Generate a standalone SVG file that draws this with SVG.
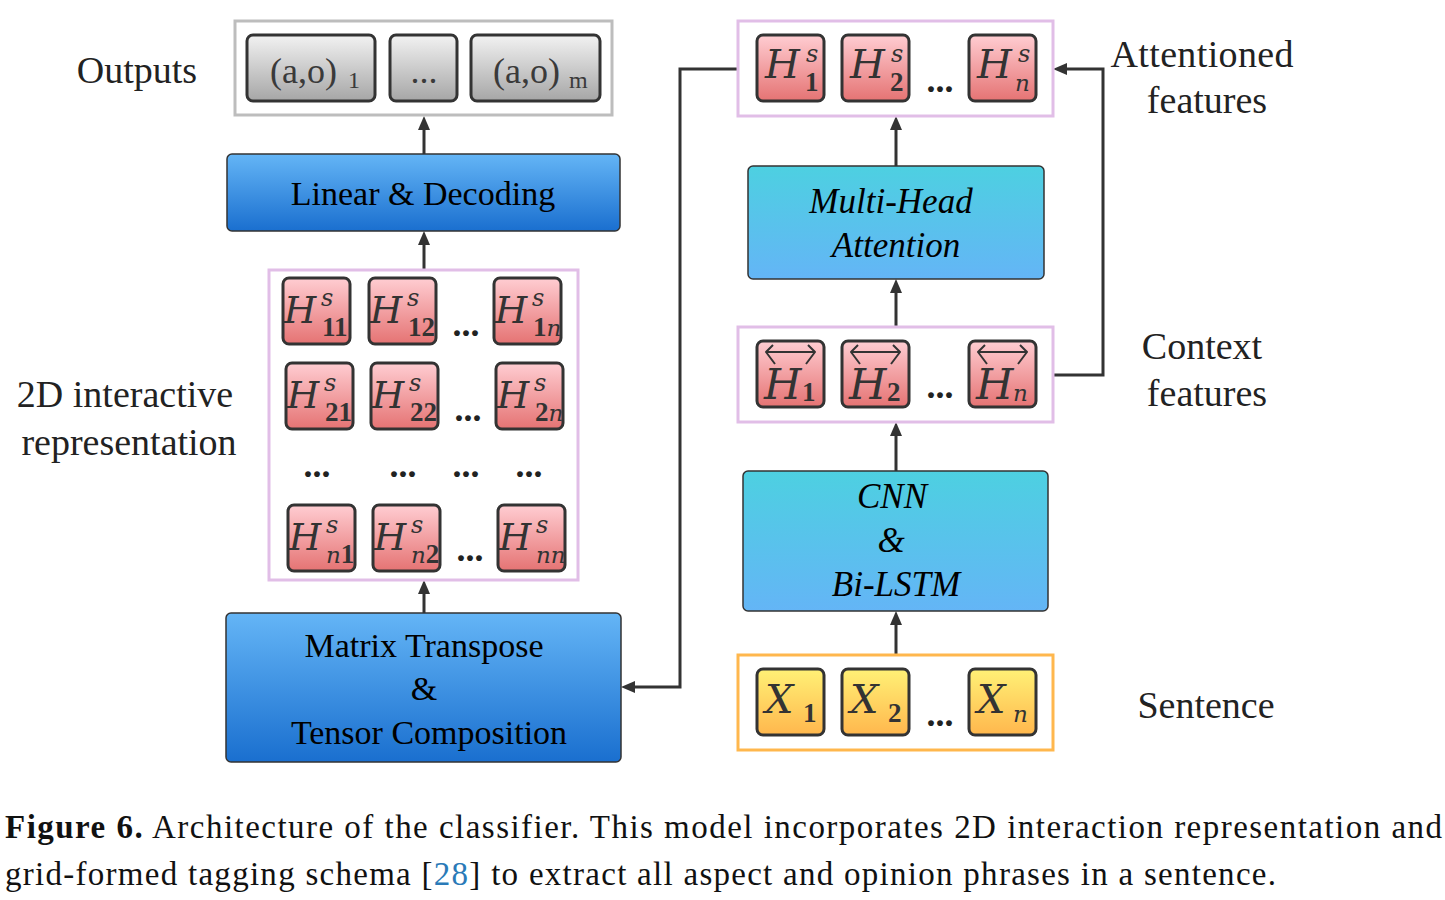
<svg xmlns="http://www.w3.org/2000/svg" width="1445" height="900" viewBox="0 0 1445 900">
<defs>
<linearGradient id="gBlue" x1="0" y1="0" x2="0" y2="1"><stop offset="0" stop-color="#64b5f6"/><stop offset="1" stop-color="#1a6fcf"/></linearGradient>
<linearGradient id="gCyan" x1="0" y1="0" x2="0" y2="1"><stop offset="0" stop-color="#4dd0e1"/><stop offset="1" stop-color="#64b5f6"/></linearGradient>
<linearGradient id="gRed" x1="0" y1="0" x2="0" y2="1"><stop offset="0" stop-color="#ffcdd2"/><stop offset="1" stop-color="#e57373"/></linearGradient>
<linearGradient id="gYel" x1="0" y1="0" x2="0" y2="1"><stop offset="0" stop-color="#fff176"/><stop offset="1" stop-color="#ffb74d"/></linearGradient>
<linearGradient id="gGray" x1="0" y1="0" x2="0" y2="1"><stop offset="0" stop-color="#f2f2f2"/><stop offset="1" stop-color="#a6a6a6"/></linearGradient>
<marker id="arr" viewBox="0 0 14 12" refX="4" refY="6" markerWidth="14" markerHeight="12" markerUnits="userSpaceOnUse" orient="auto"><path d="M0,0 L14,6 L0,12 z" fill="#333"/></marker>
</defs>
<style>
text{font-family:"Liberation Serif","Times New Roman",serif;}
.lbl{font-size:38px;fill:#222;text-anchor:middle;}
.bt{font-size:34px;fill:#000;text-anchor:middle;}
.it{font-size:35px;fill:#000;text-anchor:middle;font-style:italic;}
.big{fill:url(#gBlue);stroke:#333;stroke-width:1.5;}
.cy{fill:url(#gCyan);stroke:#333;stroke-width:1.5;}
.rc{fill:url(#gRed);stroke:#333;stroke-width:3;}
.yc{fill:url(#gYel);stroke:#333;stroke-width:3;}
.gc{fill:url(#gGray);stroke:#333;stroke-width:3;}
.lav{fill:#fff;stroke:#e1bee7;stroke-width:3;}
.org{fill:#fff;stroke:#ffb74d;stroke-width:3;}
.gry{fill:#fff;stroke:#bdbdbd;stroke-width:3;}
.mi{font-family:"DejaVu Serif",serif;font-size:40px;font-style:italic;fill:#333;}
.mig{font-family:"DejaVu Serif",serif;font-size:37px;font-style:italic;fill:#333;}
.mib{font-family:"DejaVu Serif",serif;font-size:43px;font-style:italic;fill:#333;}
.sup{font-family:"DejaVu Serif",serif;font-size:24px;font-style:italic;fill:#333;}
.sub{font-size:27px;font-weight:bold;fill:#333;}
.subi{font-family:"DejaVu Serif",serif;font-size:23px;font-weight:normal;font-style:italic;}
.dots{font-size:36px;font-weight:bold;fill:#222;text-anchor:middle;}
.ao{font-size:36px;fill:#3a3a3a;}
.aos{font-size:24px;fill:#3a3a3a;}
.conn{fill:none;stroke:#333;stroke-width:3;}
.acc{fill:none;stroke:#333;stroke-width:2;stroke-linejoin:round;}
.cap{font-size:33px;fill:#111;}
</style>

<!-- side labels -->
<text class="lbl" x="137" y="83">Outputs</text>
<text class="lbl" x="125" y="407">2D interactive</text>
<text class="lbl" x="129" y="455">representation</text>
<text class="lbl" x="1202" y="67" textLength="183">Attentioned</text>
<text class="lbl" x="1207" y="113">features</text>
<text class="lbl" x="1202" y="359">Context</text>
<text class="lbl" x="1207" y="406">features</text>
<text class="lbl" x="1206" y="718">Sentence</text>

<!-- connectors -->
<g id="connectors">
<path class="conn" marker-end="url(#arr)" d="M424,154 V126"/>
<path class="conn" marker-end="url(#arr)" d="M424,270 V241"/>
<path class="conn" marker-end="url(#arr)" d="M424,613 V590"/>
<path class="conn" marker-end="url(#arr)" d="M896,166 V126"/>
<path class="conn" marker-end="url(#arr)" d="M896,327 V289"/>
<path class="conn" marker-end="url(#arr)" d="M896,471 V432"/>
<path class="conn" marker-end="url(#arr)" d="M896,655 V621"/>
<path class="conn" marker-end="url(#arr)" d="M738,69 H680 V687 H631"/>
<path class="conn" marker-end="url(#arr)" d="M1053,375 H1103 V69 H1063"/>
</g>

<!-- Outputs -->
<g id="outputs">
<rect class="gry" x="235" y="21" width="377" height="94"/>
<rect class="gc" x="247" y="35" width="128" height="66" rx="6"/>
<text class="ao" x="270" y="83">(a,o)</text><text class="aos" x="348" y="88">1</text>
<rect class="gc" x="390" y="35" width="67" height="66" rx="6"/>
<text class="ao" x="424" y="83" text-anchor="middle">...</text>
<rect class="gc" x="471" y="35" width="129" height="66" rx="6"/>
<text class="ao" x="493" y="83">(a,o)</text><text class="aos" x="569" y="88">m</text>
</g>

<g id="linear">
<rect class="big" x="227" y="154" width="393" height="77" rx="5"/>
<text class="bt" x="423" y="205">Linear &amp; Decoding</text>
</g>

<!-- 2D grid -->
<g id="grid">
<rect class="lav" x="269" y="270" width="309" height="310"/>
<g id="h11"><rect class="rc" x="283" y="278" width="67" height="66" rx="6"/><text class="mig" x="284" y="323">H</text><text class="sup" x="321" y="306">s</text><text class="sub" x="322" y="336">11</text></g>
<g id="h12"><rect class="rc" x="369" y="278" width="67" height="66" rx="6"/><text class="mig" x="370" y="323">H</text><text class="sup" x="407" y="306">s</text><text class="sub" x="408" y="336">12</text></g>
<g id="h1n"><rect class="rc" x="494" y="278" width="67" height="66" rx="6"/><text class="mig" x="495" y="323">H</text><text class="sup" x="532" y="306">s</text><text class="sub" x="533" y="336">1<tspan class="subi">n</tspan></text></g>
<text class="dots" x="466" y="336">...</text>
<g id="h21"><rect class="rc" x="286" y="363" width="67" height="66" rx="6"/><text class="mig" x="287" y="408">H</text><text class="sup" x="324" y="391">s</text><text class="sub" x="325" y="421">21</text></g>
<g id="h22"><rect class="rc" x="371" y="363" width="67" height="66" rx="6"/><text class="mig" x="372" y="408">H</text><text class="sup" x="409" y="391">s</text><text class="sub" x="410" y="421">22</text></g>
<g id="h2n"><rect class="rc" x="496" y="363" width="67" height="66" rx="6"/><text class="mig" x="497" y="408">H</text><text class="sup" x="534" y="391">s</text><text class="sub" x="535" y="421">2<tspan class="subi">n</tspan></text></g>
<text class="dots" x="468" y="421">...</text>
<text class="dots" x="317" y="477">...</text>
<text class="dots" x="403" y="477">...</text>
<text class="dots" x="466" y="477">...</text>
<text class="dots" x="529" y="477">...</text>
<g id="hn1"><rect class="rc" x="288" y="505" width="67" height="66" rx="6"/><text class="mig" x="289" y="550">H</text><text class="sup" x="326" y="533">s</text><text class="sub" x="326" y="563"><tspan class="subi">n</tspan>1</text></g>
<g id="hn2"><rect class="rc" x="373" y="505" width="67" height="66" rx="6"/><text class="mig" x="374" y="550">H</text><text class="sup" x="411" y="533">s</text><text class="sub" x="411" y="563"><tspan class="subi">n</tspan>2</text></g>
<g id="hnn"><rect class="rc" x="498" y="505" width="67" height="66" rx="6"/><text class="mig" x="499" y="550">H</text><text class="sup" x="536" y="533">s</text><text class="sub" x="536" y="563"><tspan class="subi">nn</tspan></text></g>
<text class="dots" x="470" y="561">...</text>
</g>

<g id="matrix">
<rect class="big" x="226" y="613" width="395" height="149" rx="5"/>
<text class="bt" x="424" y="657">Matrix Transpose</text>
<text class="bt" x="424" y="700">&amp;</text>
<text class="bt" x="429" y="744">Tensor Composition</text>
</g>

<!-- right column -->
<g id="attentioned">
<rect class="lav" x="738" y="21" width="315" height="95"/>
<g id="a1"><rect class="rc" x="757" y="35" width="67" height="66" rx="6"/><text class="mi" x="765" y="78">H</text><text class="sup" x="806" y="62">s</text><text class="sub" x="805" y="91">1</text></g>
<g id="a2"><rect class="rc" x="842" y="35" width="67" height="66" rx="6"/><text class="mi" x="850" y="78">H</text><text class="sup" x="891" y="62">s</text><text class="sub" x="890" y="91">2</text></g>
<text class="dots" x="940" y="92">...</text>
<g id="an"><rect class="rc" x="969" y="35" width="67" height="66" rx="6"/><text class="mi" x="977" y="78">H</text><text class="sup" x="1018" y="62">s</text><text class="sub subi" x="1015" y="91">n</text></g>
</g>

<g id="mha">
<rect class="cy" x="748" y="166" width="296" height="113" rx="5"/>
<text class="it" x="891" y="213">Multi-Head</text>
<text class="it" x="896" y="257">Attention</text>
</g>

<g id="context">
<rect class="lav" x="738" y="327" width="315" height="95"/>
<g id="c1"><rect class="rc" x="757" y="341" width="67" height="66" rx="6"/>
<path class="acc" d="M766,352 H815 M773,345 L766,352 L775,364 M808,345 L815,352 L806,364"/>
<text class="mib" x="764" y="399">H</text><text class="sub" x="802" y="401">1</text></g>
<g id="c2"><rect class="rc" x="842" y="341" width="67" height="66" rx="6"/>
<path class="acc" d="M851,352 H900 M858,345 L851,352 L860,364 M893,345 L900,352 L891,364"/>
<text class="mib" x="849" y="399">H</text><text class="sub" x="887" y="401">2</text></g>
<text class="dots" x="940" y="398">...</text>
<g id="cn"><rect class="rc" x="969" y="341" width="67" height="66" rx="6"/>
<path class="acc" d="M978,352 H1027 M985,345 L978,352 L987,364 M1020,345 L1027,352 L1018,364"/>
<text class="mib" x="976" y="399">H</text><text class="sub subi" x="1013" y="401">n</text></g>
</g>

<g id="cnn">
<rect class="cy" x="743" y="471" width="305" height="140" rx="5"/>
<text class="it" x="892" y="508">CNN</text>
<text class="it" x="891" y="552">&amp;</text>
<text class="it" x="896" y="596">Bi-LSTM</text>
</g>

<g id="sentence">
<rect class="org" x="738" y="655" width="315" height="95"/>
<g id="x1"><rect class="yc" x="757" y="669" width="67" height="66" rx="6"/><text class="mi" x="765" y="713">X</text><text class="sub" x="803" y="722">1</text></g>
<g id="x2"><rect class="yc" x="842" y="669" width="67" height="66" rx="6"/><text class="mi" x="850" y="713">X</text><text class="sub" x="888" y="722">2</text></g>
<text class="dots" x="940" y="726">...</text>
<g id="xn"><rect class="yc" x="969" y="669" width="67" height="66" rx="6"/><text class="mi" x="977" y="713">X</text><text class="sub subi" x="1013" y="722">n</text></g>
</g>

<!-- caption -->
<text class="cap" x="5" y="838" textLength="1437" lengthAdjust="spacing"><tspan font-weight="bold">Figure 6.</tspan> Architecture of the classifier. This model incorporates 2D interaction representation and</text>
<text class="cap" x="5" y="885" textLength="1271" lengthAdjust="spacing">grid-formed tagging schema [<tspan fill="#2a7ab8">28</tspan>] to extract all aspect and opinion phrases in a sentence.</text>
</svg>
